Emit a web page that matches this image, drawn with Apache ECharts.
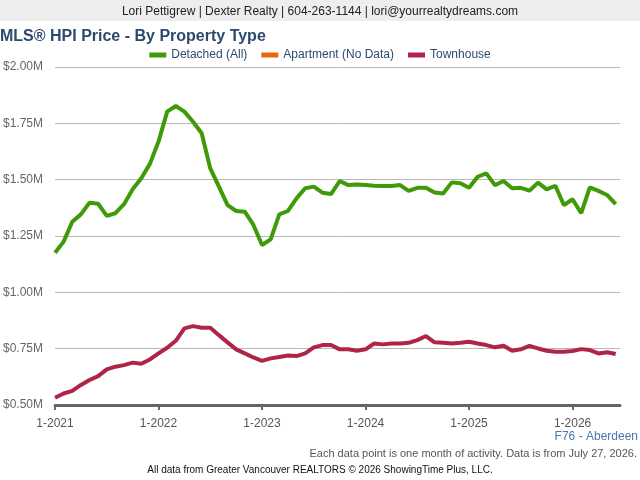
<!DOCTYPE html>
<html>
<head>
<meta charset="utf-8">
<script src="https://cdn.jsdelivr.net/npm/echarts@6/dist/echarts.min.js"></script>
<style>
html, body { margin: 0; padding: 0; background: #fff; }
#main { width: 640px; height: 480px; }
</style>
</head>
<body>
<div id="main"></div>
<script>
var myChart = echarts.init(document.getElementById('main'));

// monthly values from 1-2021 to 6-2026, in $M
var detached = [
    1.176, 1.225, 1.313, 1.346, 1.398, 1.393, 1.339, 1.351, 1.391, 1.457, 1.506, 1.570,
    1.669, 1.802, 1.827, 1.802, 1.757, 1.706, 1.550, 1.469, 1.387, 1.361, 1.358, 1.299,
    1.210, 1.235, 1.346, 1.361, 1.417, 1.462, 1.469, 1.442, 1.436, 1.494, 1.476, 1.479,
    1.476, 1.473, 1.472, 1.472, 1.476, 1.450, 1.464, 1.464, 1.443, 1.439, 1.488, 1.484,
    1.464, 1.513, 1.528, 1.476, 1.494, 1.462, 1.464, 1.451, 1.487, 1.457, 1.473, 1.387,
    1.413, 1.351, 1.466, 1.450, 1.432, 1.391
];
var apartment = [];
var townhouse = [
    0.532, 0.551, 0.563, 0.589, 0.611, 0.628, 0.658, 0.670, 0.677, 0.688, 0.683, 0.702,
    0.729, 0.754, 0.785, 0.840, 0.850, 0.843, 0.843, 0.810, 0.778, 0.747, 0.729, 0.711,
    0.696, 0.707, 0.713, 0.720, 0.717, 0.729, 0.756, 0.766, 0.766, 0.747, 0.747, 0.741,
    0.747, 0.773, 0.769, 0.773, 0.773, 0.776, 0.788, 0.806, 0.778, 0.776, 0.773, 0.776,
    0.781, 0.773, 0.766, 0.756, 0.763, 0.741, 0.747, 0.762, 0.751, 0.741, 0.736, 0.736,
    0.740, 0.748, 0.744, 0.729, 0.734, 0.726
];
var seriesNames = ['Detached (All)', 'Apartment (No Data)', 'Townhouse'];
var seriesColors = ['#3f9a08', '#e8680f', '#b02449'];
var startYear = 2021;

function toPoints(arr) {
    return arr.map(function (v, i) { return [i, v]; });
}

var font = 'Liberation Sans, Arial, sans-serif';

option = {
    backgroundColor: '#fff',
    textStyle: { fontFamily: font },
    title: {
        text: 'MLS® HPI Price - By Property Type',
        left: 0,
        top: 29,
        padding: 0,
        textStyle: {
            fontSize: 16,
            fontWeight: 'bold',
            color: '#2d4a6d',
            fontFamily: font
        }
    },
    legend: {
        top: 44,
        left: 'center',
        icon: 'rect',
        itemWidth: 17,
        itemHeight: 5,
        itemGap: 14,
        textStyle: { color: '#2d4a6d', fontSize: 12, fontFamily: font },
        data: seriesNames
    },
    grid: {
        left: 55,
        right: 20,
        top: 67,
        bottom: 75,
        containLabel: false
    },
    xAxis: {
        type: 'value',
        min: 0,
        max: 65.5,
        interval: 12,
        axisLine: { show: true, lineStyle: { color: '#666', width: 3 } },
        axisTick: { show: true, length: 5, lineStyle: { color: '#666', width: 2 } },
        splitLine: { show: false },
        axisLabel: {
            color: '#555',
            fontSize: 12,
            margin: 13,
            showMaxLabel: false,
            formatter: function (v) { return '1-' + (startYear + v / 12); }
        }
    },
    yAxis: {
        type: 'value',
        min: 0.5,
        max: 2.0,
        interval: 0.25,
        axisLine: { show: false },
        axisTick: { show: false },
        splitLine: { lineStyle: { color: '#b8b8b8', width: 1 } },
        axisLabel: {
            color: '#666',
            fontSize: 12,
            margin: 12,
            formatter: function (v) { return '$' + v.toFixed(2) + 'M'; }
        }
    },
    graphic: [
        {
            type: 'rect',
            left: 0, top: 0,
            shape: { width: 640, height: 21 },
            style: { fill: '#eeeeee' },
            z: -1
        },
        {
            type: 'text',
            left: 'center', top: 6,
            style: {
                text: 'Lori Pettigrew | Dexter Realty | 604-263-1144 | lori@yourrealtydreams.com',
                fill: '#222', font: '12px ' + font
            }
        },
        {
            type: 'text',
            right: 2, top: 431,
            style: { text: 'F76 - Aberdeen', fill: '#4a77ad', font: '12px ' + font }
        },
        {
            type: 'text',
            right: 3, top: 448,
            style: {
                text: 'Each data point is one month of activity. Data is from July 27, 2026.',
                fill: '#555', font: '11px ' + font
            }
        },
        {
            type: 'text',
            left: 'center', top: 465,
            style: {
                text: 'All data from Greater Vancouver REALTORS © 2026 ShowingTime Plus, LLC.',
                fill: '#111', font: '10px ' + font
            }
        }
    ],
    series: [
        {
            name: seriesNames[0],
            type: 'line',
            data: toPoints(detached),
            showSymbol: false,
            color: seriesColors[0],
            lineStyle: { width: 4 }
        },
        {
            name: seriesNames[1],
            type: 'line',
            data: toPoints(apartment),
            showSymbol: false,
            color: seriesColors[1],
            lineStyle: { width: 4 }
        },
        {
            name: seriesNames[2],
            type: 'line',
            data: toPoints(townhouse),
            showSymbol: false,
            color: seriesColors[2],
            lineStyle: { width: 4 }
        }
    ]
};

myChart.setOption(option);
</script>
</body>
</html>
